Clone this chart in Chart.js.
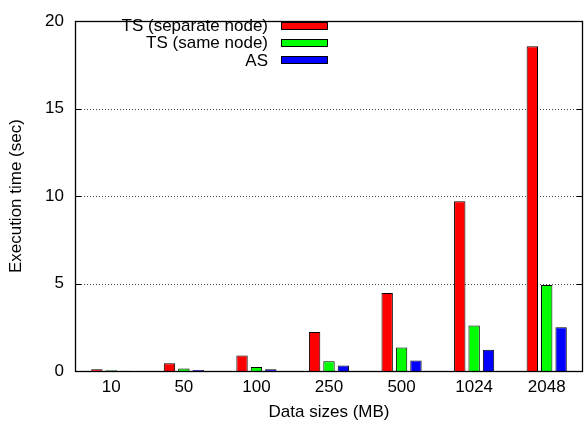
<!DOCTYPE html>
<html>
<head>
<meta charset="utf-8">
<script src="https://cdn.jsdelivr.net/npm/chart.js@4.4.0/dist/chart.umd.min.js"></script>
<style>
  body { margin: 0; background: #fff; }
  canvas { display: block; }
</style>
</head>
<body>
<canvas id="execChart" width="584" height="424"></canvas>
<script>
'use strict';
var dataSizes = ['10', '50', '100', '250', '500', '1024', '2048'];
var tsSeparate = [0.1, 0.45, 0.88, 2.23, 4.46, 9.71, 18.57];
var tsSame = [0.04, 0.15, 0.23, 0.56, 1.34, 2.6, 4.92];
var asTimes = [0.02, 0.06, 0.1, 0.32, 0.6, 1.21, 2.5];
var seriesNames = ['TS (separate node)', 'TS (same node)', 'AS'];
var seriesColors = ['#ff0000', '#00ff00', '#0000ff'];
var yTicks = [0, 5, 10, 15, 20];

var fontFamily = '"Liberation Sans", Arial, Helvetica, sans-serif';

// grid lines, inward tick marks and the box round the plot
var framePlugin = {
  id: 'frame',
  beforeDatasetsDraw: function(chart){
    var ctx = chart.ctx;
    var area = chart.chartArea;
    var y = chart.scales.y;
    ctx.save();
    ctx.lineWidth = 1;
    for (var i = 0; i < yTicks.length; i++){
      var py = Math.round(y.getPixelForValue(yTicks[i])) + 0.5;
      if (yTicks[i] !== 0 && yTicks[i] !== 20){
        ctx.strokeStyle = '#444';
        ctx.setLineDash([1, 2]);
        ctx.beginPath();
        ctx.moveTo(area.left, py);
        ctx.lineTo(area.right, py);
        ctx.stroke();
      }
      ctx.setLineDash([]);
      ctx.strokeStyle = '#000';
      ctx.beginPath();
      ctx.moveTo(area.left, py);
      ctx.lineTo(area.left + 6, py);
      ctx.moveTo(area.right, py);
      ctx.lineTo(area.right - 6, py);
      ctx.stroke();
    }
    ctx.restore();
  },
  afterDatasetsDraw: function(chart){
    var ctx = chart.ctx;
    var area = chart.chartArea;
    ctx.save();
    ctx.strokeStyle = '#000';
    ctx.lineWidth = 1.3;
    ctx.strokeRect(Math.round(area.left) + 0.5, Math.round(area.top) + 0.5,
      Math.round(area.right - area.left) - 1, Math.round(area.bottom - area.top));
    ctx.restore();
  }
};

// gnuplot style key: text on the left, swatch on the right
var keyPlugin = {
  id: 'key',
  afterDraw: function(chart){
    var ctx = chart.ctx;
    ctx.save();
    ctx.font = '17px ' + fontFamily;
    ctx.textAlign = 'right';
    ctx.textBaseline = 'middle';
    for (var i = 0; i < chart.data.datasets.length; i++){
      var ds = chart.data.datasets[i];
      var cy = 25.5 + i * 17.2;
      ctx.fillStyle = '#000';
      ctx.fillText(ds.label, 268, cy + 1);
      ctx.fillStyle = ds.backgroundColor;
      ctx.fillRect(281, Math.round(cy - 4), 47, 8);
      ctx.strokeStyle = '#000';
      ctx.lineWidth = 1;
      ctx.strokeRect(281.5, Math.round(cy - 4) + 0.5, 46, 7);
    }
    ctx.restore();
  }
};

var ctx = document.getElementById('execChart').getContext('2d');
var chart = new Chart(ctx, {
  type: 'bar',
  data: {
    labels: dataSizes,
    datasets: [{
      label: seriesNames[0],
      backgroundColor: seriesColors[0],
      borderColor: '#000',
      borderWidth: 1,
      data: tsSeparate
    }, {
      label: seriesNames[1],
      backgroundColor: seriesColors[1],
      borderColor: '#000',
      borderWidth: 1,
      data: tsSame
    }, {
      label: seriesNames[2],
      backgroundColor: seriesColors[2],
      borderColor: '#000',
      borderWidth: 1,
      data: asTimes
    }]
  },
  options: {
    responsive: false,
    animation: false,
    categoryPercentage: 0.595,
    barPercentage: 0.79,
    layout: { padding: { top: 11, right: 1, left: 0, bottom: 0 } },
    plugins: {
      legend: { display: false },
      tooltip: { enabled: false }
    },
    scales: {
      x: {
        grid: { display: false, drawTicks: false },
        border: { display: false },
        ticks: { color: '#000', padding: 6, font: { family: fontFamily, size: 17 } },
        title: {
          display: true,
          text: 'Data sizes (MB)',
          color: '#000',
          padding: { top: 0, bottom: 1 },
          font: { family: fontFamily, size: 17 }
        },
        afterFit: function(scale){ scale.height = 53; }
      },
      y: {
        min: 0,
        max: 20,
        grid: { display: false, drawTicks: false },
        border: { display: false },
        ticks: { stepSize: 5, color: '#000', padding: 11, font: { family: fontFamily, size: 17 } },
        title: {
          display: true,
          text: 'Execution time (sec)',
          color: '#000',
          padding: { top: 6, bottom: 0 },
          font: { family: fontFamily, size: 17 }
        },
        afterFit: function(scale){ scale.width = 75; }
      }
    }
  },
  plugins: [framePlugin, keyPlugin]
});
</script>
</body>
</html>
